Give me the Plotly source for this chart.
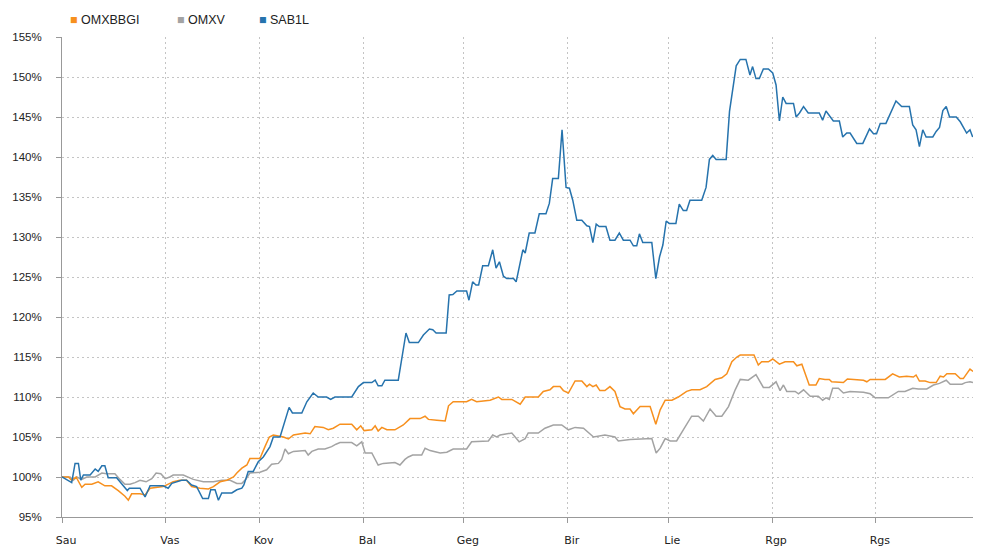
import pandas as pd
import plotly.graph_objects as go

BASE = pd.Timestamp("2014-01-01")

month_days = [0, 31, 59, 90, 120, 151, 181, 212, 243]
month_labels = ["Sau", "Vas", "Kov", "Bal", "Geg", "Bir", "Lie", "Rgp", "Rgs"]

sab_days = [0, 2.9, 3.9, 4.9, 5.6, 6.4, 8.4, 9.9, 10.8, 11.9, 12.8, 13.8, 16.3, 17.3, 19.5, 20.1, 23.3, 24.8,
            26.3, 30.2, 31.7, 32.8, 34.2, 35.7, 37.2, 38.7, 40.2, 42.0, 43.7, 44.4, 45.7, 46.7, 47.7, 50.7,
            52.2, 53.7, 54.3, 55.6, 57.1, 58.6, 60.1, 62.1, 63.1, 65.1, 67.8, 68.8, 71.6, 73.1, 75.0, 76.5,
            79.0, 80.2, 81.5, 86.5, 88.5, 90.0, 92.5, 93.5, 94.4, 95.5, 96.4, 100.4, 102.7, 103.7, 106.4,
            107.9, 109.7, 110.7, 111.7, 114.7, 115.6, 116.7, 117.9, 120.8, 121.5, 122.6, 123.6, 124.4, 125.6,
            127.3, 128.6, 129.6, 130.6, 131.8, 132.8, 134.8, 135.6, 137.6, 138.3, 139.5, 141.2, 142.5, 144.5,
            145.5, 146.5, 148.2, 149.3, 150.5, 151.5, 152.5, 153.7, 155.2, 156.7, 157.5, 158.5, 159.5, 160.4,
            162.4, 163.6, 165.1, 166.4, 167.6, 169.6, 170.6, 171.6, 172.4, 173.4, 176.1, 177.3, 178.4, 179.4,
            180.4, 181.3, 183.3, 184.3, 185.5, 186.5, 187.5, 191.0, 192.3, 193.3, 194.3, 195.3, 198.3, 199.3,
            200.3, 201.3, 202.5, 204.2, 205.4, 206.2, 207.2, 208.2, 209.4, 210.9, 212.2, 213.2, 214.2, 215.2,
            216.2, 218.4, 219.2, 220.2, 221.4, 222.8, 226.1, 227.1, 228.1, 229.3, 230.3, 232.1, 233.1, 234.3,
            235.3, 237.3, 239.1, 241.1, 242.3, 243.2, 244.3, 246.0, 247.2, 249.0, 250.7, 253.0, 254.0, 255.0,
            256.0, 257.0, 258.0, 260.0, 261.0, 262.0, 263.0, 264.0, 265.0, 267.0, 268.2, 269.1, 270.1, 271.1,
            271.9]
sab_vals = [100.0, 99.3, 101.7, 101.7, 99.6, 100.25, 100.25, 101.0, 100.7, 101.4, 101.4, 99.9, 99.9, 99.4,
            98.3, 98.6, 98.6, 97.5, 98.9, 98.9, 98.6, 99.2, 99.4, 99.6, 99.6, 99.0, 98.8, 97.3, 97.3, 98.4,
            98.4, 97.1, 98.0, 98.0, 98.4, 98.6, 99.0, 100.7, 100.7, 101.9, 102.5, 103.8, 105.0, 105.0, 108.7,
            108.0, 108.0, 109.4, 110.5, 110.0, 110.0, 109.7, 110.0, 110.0, 111.3, 111.8, 111.8, 112.1, 111.4,
            111.4, 112.1, 112.1, 118.0, 116.8, 116.8, 117.75, 118.5, 118.4, 118.0, 118.0, 122.75, 122.8,
            123.25, 123.25, 122.1, 124.4, 124.0, 124.0, 126.4, 126.4, 128.4, 126.1, 126.9, 125.1, 124.8, 124.8,
            124.4, 128.4, 128.0, 130.5, 130.5, 132.9, 132.9, 134.2, 137.3, 137.3, 143.4, 136.2, 136.1, 134.6,
            132.1, 132.1, 131.4, 131.3, 129.3, 131.6, 131.3, 131.3, 129.6, 129.6, 130.5, 129.6, 129.6, 128.9,
            128.9, 130.4, 129.3, 129.3, 124.8, 127.5, 129.0, 132.0, 131.7, 131.7, 134.1, 133.3, 133.3, 134.6,
            134.6, 136.2, 139.7, 140.2, 139.7, 139.7, 145.7, 148.8, 151.4, 152.2, 152.2, 150.25, 151.3, 149.8,
            149.8, 151.0, 151.0, 150.5, 149.0, 144.5, 147.5, 146.7, 146.7, 145.0, 145.5, 146.3, 145.5, 145.5,
            144.6, 145.75, 145.0, 144.5, 144.5, 142.5, 143.0, 143.0, 141.7, 141.7, 143.5, 142.9, 142.9, 144.2,
            144.2, 145.25, 147.0, 146.3, 146.3, 144.0, 143.4, 141.3, 143.4, 142.5, 142.5, 143.2, 143.7, 145.8,
            146.3, 145.0, 145.0, 144.4, 143.7, 143.0, 143.4, 142.5]

omxbbgi_days = [0, 1.9, 2.9, 4.2, 5.9, 6.9, 8.9, 10.8, 12.8, 14.8, 16.8, 18.8, 19.8, 20.8, 23.3, 24.8, 26.3,
                30.2, 32.2, 33.2, 35.2, 37.2, 38.7, 41.2, 43.7, 45.2, 47.2, 49.2, 51.2, 52.2, 53.7, 55.2, 56.1,
                59.1, 60.6, 61.9, 63.1, 66.1, 67.6, 69.1, 72.6, 74.1, 75.5, 78.0, 79.5, 81.0, 83.0, 86.5, 88.0,
                89.2, 90.2, 92.5, 93.5, 94.4, 95.5, 97.0, 99.4, 101.9, 103.9, 106.9, 108.4, 109.4, 111.9, 114.4,
                115.4, 116.8, 120.8, 122.3, 123.8, 127.8, 130.3, 131.3, 134.3, 136.8, 138.3, 142.2, 143.7,
                145.7, 146.7, 148.7, 149.7, 151.2, 153.2, 155.2, 156.7, 157.5, 158.5, 159.5, 160.6, 162.1,
                163.6, 165.1, 166.6, 168.1, 169.6, 170.6, 172.6, 175.6, 177.3, 178.6, 180.1, 182.1, 184.0,
                186.5, 188.0, 190.5, 192.5, 195.0, 197.0, 198.5, 200.0, 201.5, 202.5, 205.9, 206.6, 207.9,
                208.9, 210.9, 212.2, 214.2, 215.9, 218.4, 219.4, 220.9, 223.1, 225.1, 226.1, 227.8, 229.1,
                229.8, 233.3, 234.5, 236.8, 239.3, 240.3, 241.3, 243.8, 245.8, 248.0, 250.0, 252.2, 254.2,
                255.0, 256.0, 257.7, 259.2, 261.0, 262.2, 263.2, 264.2, 266.7, 268.2, 269.1, 271.1, 272.0]
omxbbgi_vals = [100.0, 100.0, 99.6, 100.0, 98.7, 99.1, 99.1, 99.4, 98.9, 98.9, 98.3, 97.6, 97.1, 97.9, 97.9,
                97.75, 98.6, 98.8, 99.2, 99.4, 99.6, 99.6, 98.8, 98.6, 98.5, 98.8, 99.4, 99.6, 100.0, 100.5,
                101.1, 101.5, 102.3, 102.3, 103.8, 105.0, 105.25, 105.0, 104.75, 105.25, 105.5, 105.4, 106.3,
                106.2, 105.9, 106.1, 106.6, 106.6, 105.9, 106.4, 105.8, 105.9, 106.4, 105.75, 106.2, 105.9,
                105.9, 106.5, 107.3, 107.3, 107.6, 107.2, 107.1, 107.0, 108.9, 109.4, 109.4, 109.7, 109.4,
                109.6, 110.0, 109.7, 109.7, 109.1, 110.0, 110.0, 110.7, 110.9, 111.3, 111.3, 110.8, 110.5,
                112.0, 112.0, 111.3, 111.6, 111.3, 111.5, 110.8, 110.8, 111.3, 110.7, 108.8, 108.5, 108.5,
                107.9, 108.8, 108.8, 106.6, 108.4, 109.6, 109.6, 110.0, 110.7, 110.9, 110.9, 111.3, 112.2,
                112.4, 112.9, 114.4, 115.0, 115.25, 115.2, 115.25, 114.0, 114.4, 114.4, 114.75, 114.1, 114.4,
                114.4, 113.9, 114.1, 111.5, 111.5, 112.3, 112.2, 112.2, 111.9, 111.8, 112.25, 112.2, 112.1,
                111.9, 112.2, 112.2, 112.2, 112.9, 112.5, 112.6, 112.5, 112.75, 112.0, 112.0, 111.8, 111.8,
                112.6, 112.5, 112.9, 112.9, 112.3, 112.3, 113.5, 113.2]

omxv_days = [0, 2.4, 3.4, 4.4, 5.9, 7.4, 9.9, 11.9, 13.3, 15.8, 17.3, 18.8, 20.3, 21.8, 23.3, 25.1, 26.8, 28.1,
             29.5, 30.8, 32.2, 33.2, 36.2, 37.7, 39.2, 42.2, 45.2, 47.7, 50.2, 52.2, 53.7, 54.9, 56.1, 59.1,
             61.1, 62.6, 64.6, 65.6, 66.6, 67.6, 69.1, 72.6, 73.5, 74.6, 76.5, 78.5, 80.5, 81.8, 83.0, 86.5,
             88.0, 89.5, 90.5, 92.5, 94.4, 95.9, 99.4, 100.9, 102.4, 103.4, 104.7, 107.4, 108.4, 109.9, 112.9,
             114.9, 116.8, 120.8, 122.3, 127.3, 128.6, 129.8, 130.8, 134.3, 136.5, 138.3, 139.2, 142.2, 144.2,
             146.7, 149.2, 151.2, 153.2, 155.7, 158.7, 162.1, 165.1, 166.1, 169.6, 176.1, 177.4, 178.6, 180.1,
             181.6, 183.5, 185.5, 188.0, 190.0, 191.5, 193.5, 195.3, 197.0, 199.0, 201.0, 202.5, 204.9, 207.2,
             209.4, 211.2, 213.2, 214.4, 215.4, 216.4, 218.9, 219.9, 221.4, 223.4, 225.8, 227.1, 228.1, 229.1,
             230.1, 231.8, 233.3, 235.3, 239.3, 241.3, 242.8, 246.7, 249.7, 251.7, 254.0, 255.7, 258.2, 260.2,
             262.0, 264.0, 265.2, 268.7, 269.7, 271.1, 272.0]
omxv_vals = [100.0, 100.0, 99.6, 100.0, 99.7, 100.0, 100.0, 100.5, 100.4, 100.4, 99.7, 99.1, 99.1, 99.3, 99.6,
             99.4, 99.8, 100.5, 100.4, 99.8, 100.0, 100.25, 100.25, 100.0, 99.7, 99.4, 99.4, 99.6, 99.6, 99.2,
             99.2, 99.7, 100.5, 100.6, 100.9, 101.6, 101.7, 102.2, 103.5, 102.9, 103.2, 103.3, 102.75, 103.2,
             103.5, 103.5, 103.8, 104.1, 104.3, 104.3, 103.9, 104.4, 103.0, 103.0, 101.5, 101.7, 101.8, 101.5,
             102.2, 102.5, 102.75, 102.75, 103.6, 103.3, 103.0, 103.1, 103.5, 103.5, 104.4, 104.5, 105.25,
             105.0, 105.25, 105.5, 104.4, 104.8, 105.5, 105.5, 106.1, 106.5, 106.5, 105.9, 106.2, 106.1, 105.0,
             105.25, 105.0, 104.5, 104.7, 104.8, 103.0, 103.6, 104.8, 104.5, 104.5, 105.9, 107.6, 107.6, 107.0,
             108.5, 107.6, 107.6, 108.8, 110.9, 112.2, 112.1, 112.8, 111.2, 111.2, 111.9, 110.8, 111.5, 110.7,
             110.7, 110.4, 110.9, 110.1, 110.1, 109.6, 109.9, 109.7, 111.1, 111.1, 110.5, 110.7, 110.6, 110.4,
             109.9, 109.9, 110.7, 110.7, 111.1, 111.0, 111.0, 111.5, 111.7, 112.1, 111.6, 111.6, 111.8, 111.9,
             111.8]

series_names = ["OMXBBGI", "OMXV", "SAB1L"]
series_colors = {"OMXBBGI": "#f7901e", "OMXV": "#a3a3a3", "SAB1L": "#2673ad"}


def to_dates(days):
    return BASE + pd.to_timedelta(days, unit="D")


fig = go.Figure()
for name, days, vals in [("OMXV", omxv_days, omxv_vals),
                         ("OMXBBGI", omxbbgi_days, omxbbgi_vals),
                         ("SAB1L", sab_days, sab_vals)]:
    fig.add_trace(go.Scatter(x=to_dates(days), y=vals, mode="lines", name=name,
                             line=dict(color=series_colors[name], width=1.5),
                             showlegend=False))

# legend drawn as text annotations
legend_x = [0.0066, 0.124, 0.2145]
for name, lx in zip(series_names, legend_x):
    fig.add_annotation(xref="paper", yref="paper", x=lx, y=1.035, xanchor="left", yanchor="middle",
                       showarrow=False,
                       text=f'<span style="color:{series_colors[name]}">■</span> {name}',
                       font=dict(family="Liberation Sans, Arial", size=12.5, color="#222"))

tick_dates = to_dates(month_days)
fig.update_layout(
    width=981, height=546,
    margin=dict(l=62, r=8, t=37, b=29, autoexpand=False),
    paper_bgcolor="white", plot_bgcolor="white",
    xaxis=dict(
        type="date", automargin=False,
        range=[BASE, BASE + pd.Timedelta(days=272)],
        tickvals=tick_dates, ticktext=month_labels,
        ticks="outside", ticklen=5, tickcolor="#999",
        showline=True, linecolor="#999", linewidth=1,
        showgrid=True, gridcolor="#c4c4c4", griddash="2px,3px", gridwidth=1,
        tickfont=dict(family="DejaVu Sans", size=11, color="#222"),
        ticklabelshift=4, ticklabelstandoff=8,
        zeroline=False,
    ),
    yaxis=dict(
        automargin=False,
        range=[95, 155], dtick=5, tick0=95,
        ticksuffix="%",
        ticks="outside", ticklen=5, tickcolor="#999",
        showline=True, linecolor="#999", linewidth=1,
        showgrid=True, gridcolor="#c4c4c4", griddash="2px,3px", gridwidth=1,
        tickfont=dict(family="Liberation Sans, Arial", size=11.5, color="#222"),
        ticklabelstandoff=12,
        zeroline=False,
    ),
)

fig.write_html("out.html", config={"displayModeBar": False},
               post_script="document.body.style.margin='0';document.body.style.overflow='hidden';")
